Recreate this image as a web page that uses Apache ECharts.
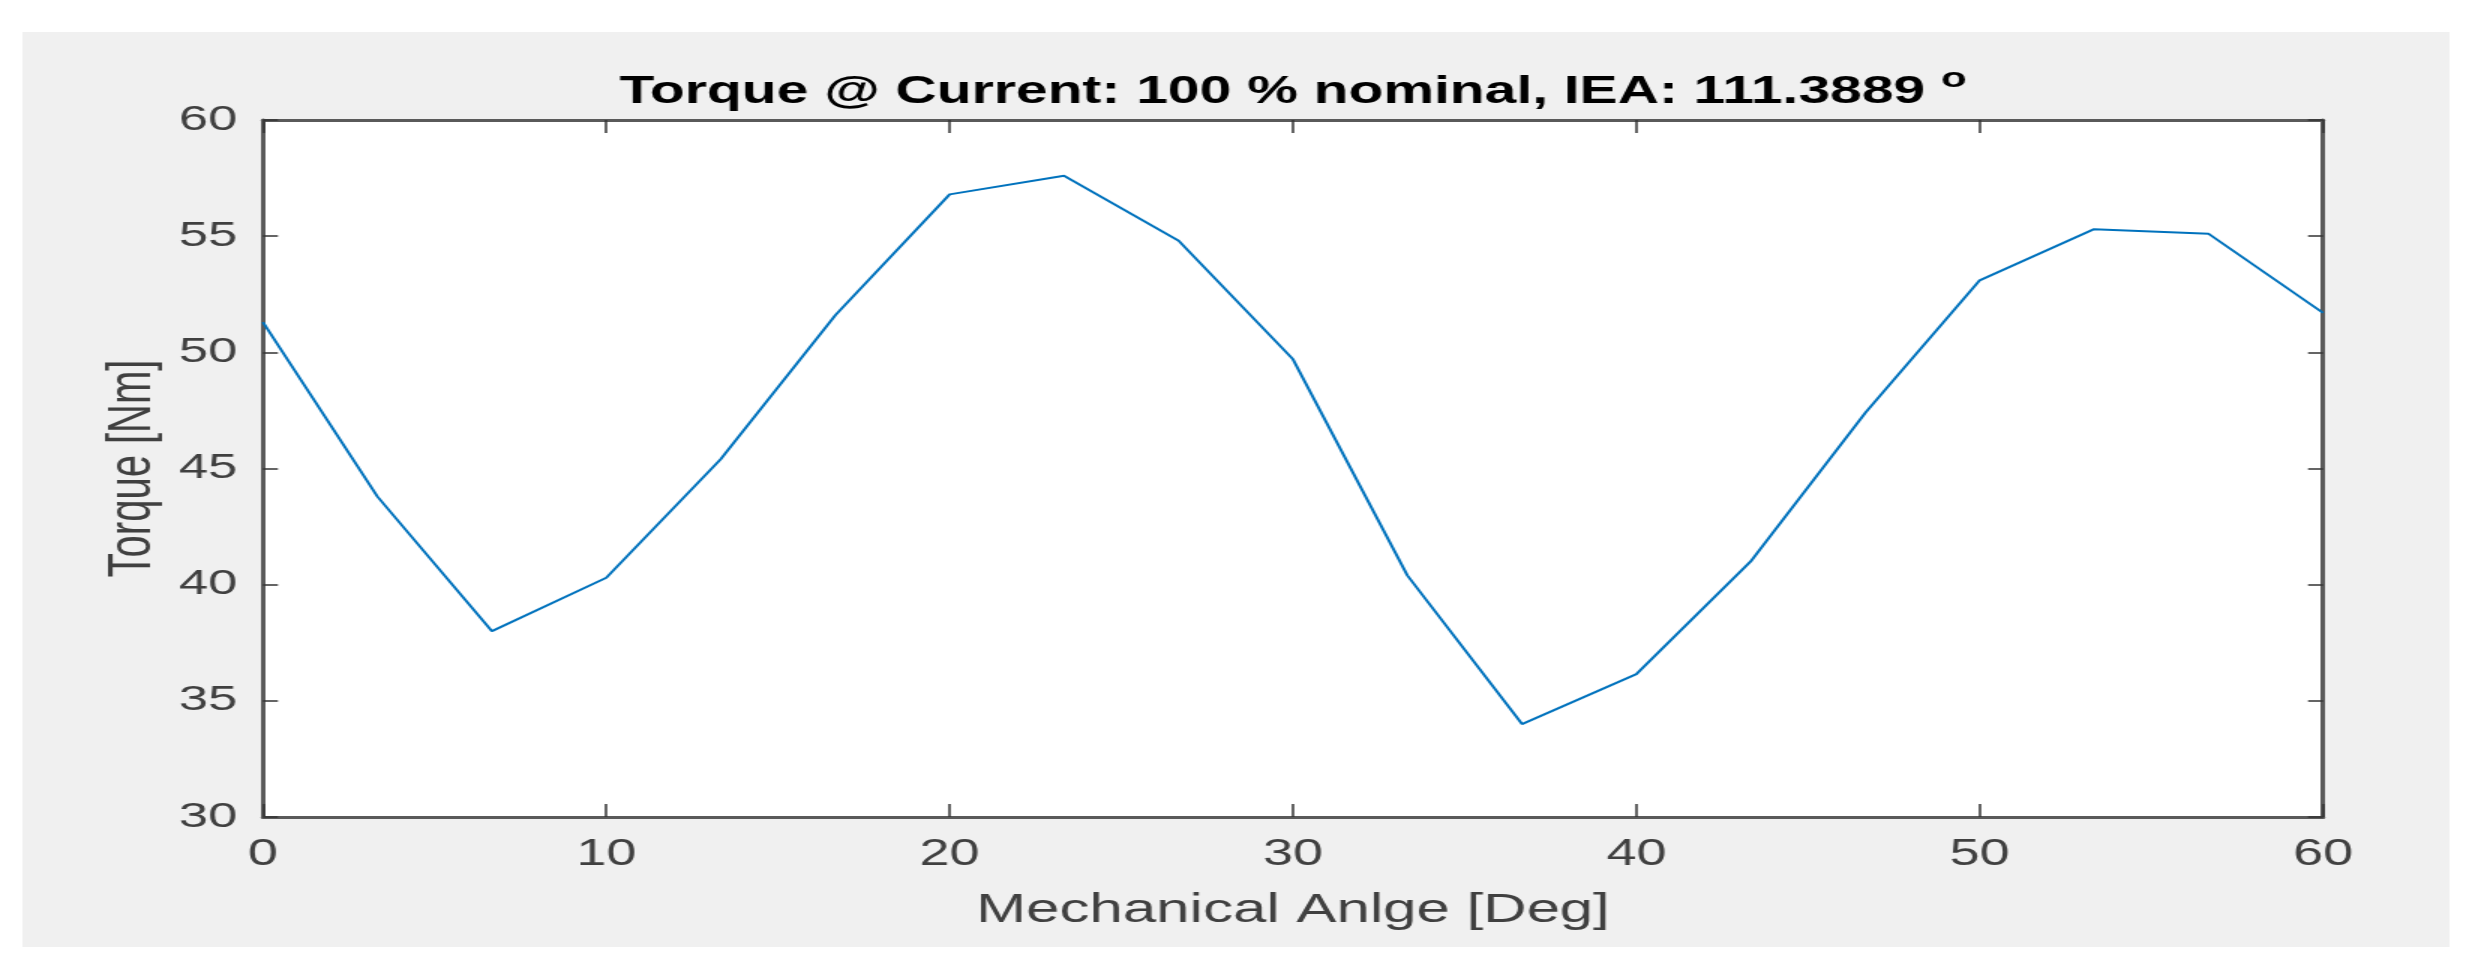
<!DOCTYPE html>
<html>
<head>
<meta charset="utf-8">
<title>Torque vs Mechanical Angle</title>
<script src="https://cdn.jsdelivr.net/npm/echarts@6/dist/echarts.min.js"></script>
<style>
  html, body { margin: 0; padding: 0; background: #fff; overflow: hidden; }
  /* the source figure is stretched sideways, so the canvas is too */
  #chart { width: 1646px; height: 972px; transform: scaleX(1.5); transform-origin: 0 0; }
</style>
</head>
<body>
<div id="chart"></div>
<script>
// mechanical angle [deg]
const angles = [0, 3.33, 6.67, 10, 13.33, 16.67, 20, 23.33, 26.67, 30, 33.33, 36.67, 40, 43.33, 46.67, 50, 53.33, 56.67, 60]
// torque [Nm]
const torque = [51.3, 43.8, 38.0, 40.3, 45.4, 51.6, 56.8, 57.6, 54.8, 49.7, 40.4, 34.0, 36.15, 41.0, 47.4, 53.1, 55.3, 55.1, 51.7]

const xTicks = [0, 10, 20, 30, 40, 50, 60]
const yTicks = [30, 35, 40, 45, 50, 55, 60]

const titleMain = 'Torque @ Current: 100 % nominal, IEA: 111.3889 '
const titleSup = 'o'

const font = '"Liberation Sans", Arial, Helvetica, sans-serif'
const axisColor = '#5a5a5a'
const labelColor = '#404040'

const chart = echarts.init(document.getElementById('chart'))

const xBase = {
  type: 'value',
  min: xTicks[0],
  max: xTicks[xTicks.length - 1],
  interval: xTicks[1] - xTicks[0],
  axisLine: { show: true, onZero: false, lineStyle: { color: axisColor, width: 3 } },
  axisTick: { show: true, inside: true, length: 13, lineStyle: { color: '#333', width: 1.5 } },
  splitLine: { show: false }
}
const yBase = {
  type: 'value',
  min: yTicks[0],
  max: yTicks[yTicks.length - 1],
  interval: yTicks[1] - yTicks[0],
  axisLine: { show: true, onZero: false, lineStyle: { color: axisColor, width: 3 } },
  axisTick: { show: true, inside: true, length: 10, lineStyle: { color: '#333', width: 1.5 } },
  splitLine: { show: false }
}

const option = {
  backgroundColor: '#fff',
  animation: false,
  graphic: [
    {
      type: 'rect',
      z: -10,
      silent: true,
      shape: { x: 15, y: 32, width: 1618, height: 915 },
      style: { fill: '#f0f0f0' }
    }
  ],
  title: {
    text: '{m|' + titleMain + '}{s|' + titleSup + '}',
    left: 862,
    top: 65,
    padding: 0,
    textAlign: 'center',
    textStyle: {
      rich: {
        m: { fontFamily: font, fontWeight: 'bold', fontSize: 38, lineHeight: 56, color: '#000' },
        s: { fontFamily: font, fontWeight: 'bold', fontSize: 28, lineHeight: 28, padding: [0, 0, 28, 0], color: '#000' }
      }
    }
  },
  grid: {
    left: 175.3,
    right: 97.3,
    top: 120,
    bottom: 155,
    show: true,
    backgroundColor: '#fff',
    borderWidth: 0
  },
  xAxis: [
    Object.assign({}, xBase, {
      position: 'bottom',
      name: 'Mechanical Anlge [Deg]',
      nameLocation: 'middle',
      nameGap: 74,
      nameTextStyle: { fontFamily: font, fontSize: 40, color: labelColor },
      axisLabel: { show: true, margin: 20, fontFamily: font, fontSize: 36, color: labelColor, showMinLabel: true, showMaxLabel: true }
    }),
    Object.assign({}, xBase, {
      position: 'top',
      axisLabel: { show: false }
    })
  ],
  yAxis: [
    Object.assign({}, yBase, {
      position: 'left',
      name: 'Torque [Nm]',
      nameLocation: 'middle',
      nameGap: 66,
      nameTextStyle: { fontFamily: font, fontSize: 40, color: labelColor },
      axisLabel: { show: true, margin: 17, fontFamily: font, fontSize: 35, color: labelColor, showMinLabel: true, showMaxLabel: true }
    }),
    Object.assign({}, yBase, {
      position: 'right',
      axisLabel: { show: false }
    })
  ],
  series: [
    {
      type: 'line',
      xAxisIndex: 0,
      yAxisIndex: 0,
      data: angles.map((a, i) => [a, torque[i]]),
      showSymbol: false,
      lineStyle: { color: '#0072BD', width: 2 },
      itemStyle: { color: '#0072BD' }
    }
  ]
}

chart.setOption(option)
</script>
</body>
</html>
